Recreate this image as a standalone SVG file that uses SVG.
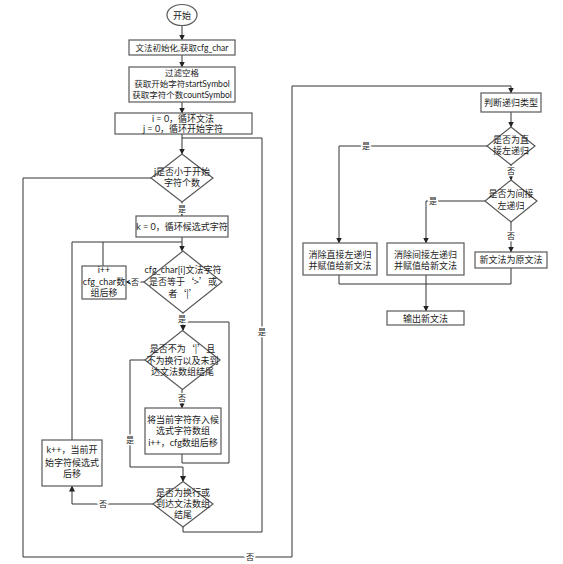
<svg xmlns="http://www.w3.org/2000/svg" width="563" height="564" viewBox="0 0 563 564">
<style>
  .bx{fill:#fff;stroke:#595959;stroke-width:1.2}
  .t{font-family:Lato,"Noto Sans CJK SC",sans-serif;font-size:9px;fill:#222;text-anchor:middle}
  .q{font-family:"Noto Sans CJK SC",sans-serif}
  .s{font-size:8.5px}
  .ln{fill:none;stroke:#333;stroke-width:1}
  .lb{font-family:"Noto Sans CJK SC",sans-serif;font-size:8px;fill:#222;text-anchor:middle;stroke:#fff;stroke-width:3;paint-order:stroke}
</style>
<defs>
  <marker id="ar" markerWidth="6" markerHeight="6" refX="5" refY="3" orient="auto" markerUnits="userSpaceOnUse">
    <path d="M0,0 L6,3 L0,6 Z" fill="#222"/>
  </marker>
</defs>
<rect width="563" height="564" fill="#fff"/>
<g id="connectors">
  <path class="ln" d="M182,25.5 V39.5" marker-end="url(#ar)"/>
  <path class="ln" d="M182,55 V66.5" marker-end="url(#ar)"/>
  <path class="ln" d="M182,102 V112.5" marker-end="url(#ar)"/>
  <path class="ln" d="M182,134 V153.5" marker-end="url(#ar)"/>
  <path class="ln" d="M183,527 V532 H262 V138 H182"/>
  <path class="ln" d="M151,178 H23 V557 H292 V86 H511 V92.5" marker-end="url(#ar)"/>
  <path class="ln" d="M182,202 V215.5" marker-end="url(#ar)"/>
  <path class="ln" d="M182,237 V250.5" marker-end="url(#ar)"/>
  <path class="ln" d="M144,282 H126.5" marker-end="url(#ar)"/>
  <path class="ln" d="M103,266 V242"/>
  <path class="ln" d="M72,440 V242 H182"/>
  <path class="ln" d="M183,313 V330" marker-end="url(#ar)"/>
  <path class="ln" d="M182,389.5 V407.5" marker-end="url(#ar)"/>
  <path class="ln" d="M182,454 V463 H229 V322 H183"/>
  <path class="ln" d="M145,360 H130 V467 H183 V481" marker-end="url(#ar)"/>
  <path class="ln" d="M153,504 H72 V486.5" marker-end="url(#ar)"/>
  <path class="ln" d="M511,112 V126.5" marker-end="url(#ar)"/>
  <path class="ln" d="M487,146 H339 V242.5" marker-end="url(#ar)"/>
  <path class="ln" d="M511,165 V179.5" marker-end="url(#ar)"/>
  <path class="ln" d="M485,201 H426 V242.5" marker-end="url(#ar)"/>
  <path class="ln" d="M511,222 V251.5" marker-end="url(#ar)"/>
  <path class="ln" d="M339,275 V284 H511 V268"/>
  <path class="ln" d="M426,275 V310.5" marker-end="url(#ar)"/>
  <text class="lb" x="262" y="335">是</text>
  <text class="lb" x="250" y="560">否</text>
  <text class="lb" x="182" y="212">是</text>
  <text class="lb" x="135" y="285">否</text>
  <text class="lb" x="182" y="322">是</text>
  <text class="lb" x="182" y="401">否</text>
  <text class="lb" x="130" y="443">是</text>
  <text class="lb" x="103" y="507">否</text>
  <text class="lb" x="366" y="149">是</text>
  <text class="lb" x="511" y="174">否</text>
  <text class="lb" x="433" y="204">是</text>
  <text class="lb" x="511" y="239">否</text>
</g>
<g id="start">
  <ellipse class="bx" cx="182" cy="15" rx="15" ry="10.5"/>
  <text class="t" x="182" y="18.5">开始</text>
</g>
<g id="init">
  <rect class="bx" x="129" y="40" width="106" height="15"/>
  <text class="t s" x="182" y="51">文法初始化,获取cfg_char</text>
</g>
<g id="filter">
  <rect class="bx" x="129" y="67" width="106" height="35"/>
  <text class="t s" x="182" y="76">过滤空格</text>
  <text class="t s" x="182" y="87">获取开始字符startSymbol</text>
  <text class="t s" x="182" y="98">获取字符个数countSymbol</text>
</g>
<g id="loopinit">
  <rect class="bx" x="115" y="113" width="137" height="21"/>
  <text class="t" x="183" y="121.5">i = 0，循环文法</text>
  <text class="t" x="183" y="132">j = 0，循环开始字符</text>
</g>
<g id="d1">
  <polygon class="bx" points="182,154 213,178 182,202 151,178"/>
  <text class="t" x="182" y="175">j是否小于开始</text>
  <text class="t" x="182" y="186">字符个数</text>
</g>
<g id="kinit">
  <rect class="bx" x="136" y="216" width="92" height="21"/>
  <text class="t" x="182" y="230">k = 0，循环候选式字符</text>
</g>
<g id="d2">
  <polygon class="bx" points="183,251 222,282 183,313 144,282"/>
  <text class="t" x="183" y="273">cfg_char[i]文法字符</text>
  <text class="t q" x="183" y="285">是否等于‘&gt;’或</text>
  <text class="t q" x="183" y="296.5">者‘|’</text>
</g>
<g id="iinc">
  <rect class="bx" x="82" y="266" width="44" height="33"/>
  <text class="t" x="104" y="273">i++</text>
  <text class="t" x="104" y="285">cfg_char数</text>
  <text class="t" x="104" y="296">组后移</text>
</g>
<g id="d3">
  <polygon class="bx" points="182.5,330.5 220,360 182.5,389.5 145,360"/>
  <text class="t q" x="182.5" y="352">是否不为‘|’且</text>
  <text class="t" x="182.5" y="364">不为换行以及未到</text>
  <text class="t" x="182.5" y="375">达文法数组结尾</text>
</g>
<g id="store">
  <rect class="bx" x="145" y="408" width="76" height="46"/>
  <text class="t" x="183" y="422.5">将当前字符存入候</text>
  <text class="t" x="183" y="434">选式字符数组</text>
  <text class="t" x="183" y="446">i++，cfg数组后移</text>
</g>
<g id="d4">
  <polygon class="bx" points="183,481.5 213,504 183,527 153,504"/>
  <text class="t" x="183" y="496">是否为换行或</text>
  <text class="t" x="183" y="507">到达文法数组</text>
  <text class="t" x="183" y="518">结尾</text>
</g>
<g id="kinc">
  <rect class="bx" x="42" y="440" width="60" height="46"/>
  <text class="t" x="72" y="453">k++，当前开</text>
  <text class="t" x="72" y="466">始字符候选式</text>
  <text class="t" x="72" y="477">后移</text>
</g>
<g id="judge">
  <rect class="bx" x="481" y="93" width="60" height="19"/>
  <text class="t" x="511" y="106">判断递归类型</text>
</g>
<g id="d5">
  <polygon class="bx" points="511,127 535,146 511,165 487,146"/>
  <text class="t" x="511" y="143">是否为直</text>
  <text class="t" x="511" y="154">接左递归</text>
</g>
<g id="d6">
  <polygon class="bx" points="511,180 537,201 511,222 485,201"/>
  <text class="t" x="511" y="196.5">是否为间接</text>
  <text class="t" x="511" y="209">左递归</text>
</g>
<g id="direct">
  <rect class="bx" x="303" y="243" width="74" height="32"/>
  <text class="t" x="340" y="258">消除直接左递归</text>
  <text class="t" x="340" y="269">并赋值给新文法</text>
</g>
<g id="indirect">
  <rect class="bx" x="387" y="243" width="77" height="32"/>
  <text class="t" x="425.5" y="258">消除间接左递归</text>
  <text class="t" x="425.5" y="269">并赋值给新文法</text>
</g>
<g id="same">
  <rect class="bx" x="475" y="252" width="72" height="16"/>
  <text class="t" x="511" y="263">新文法为原文法</text>
</g>
<g id="output">
  <rect class="bx" x="387" y="311" width="77" height="14"/>
  <text class="t" x="425.5" y="321.5">输出新文法</text>
</g>
</svg>
